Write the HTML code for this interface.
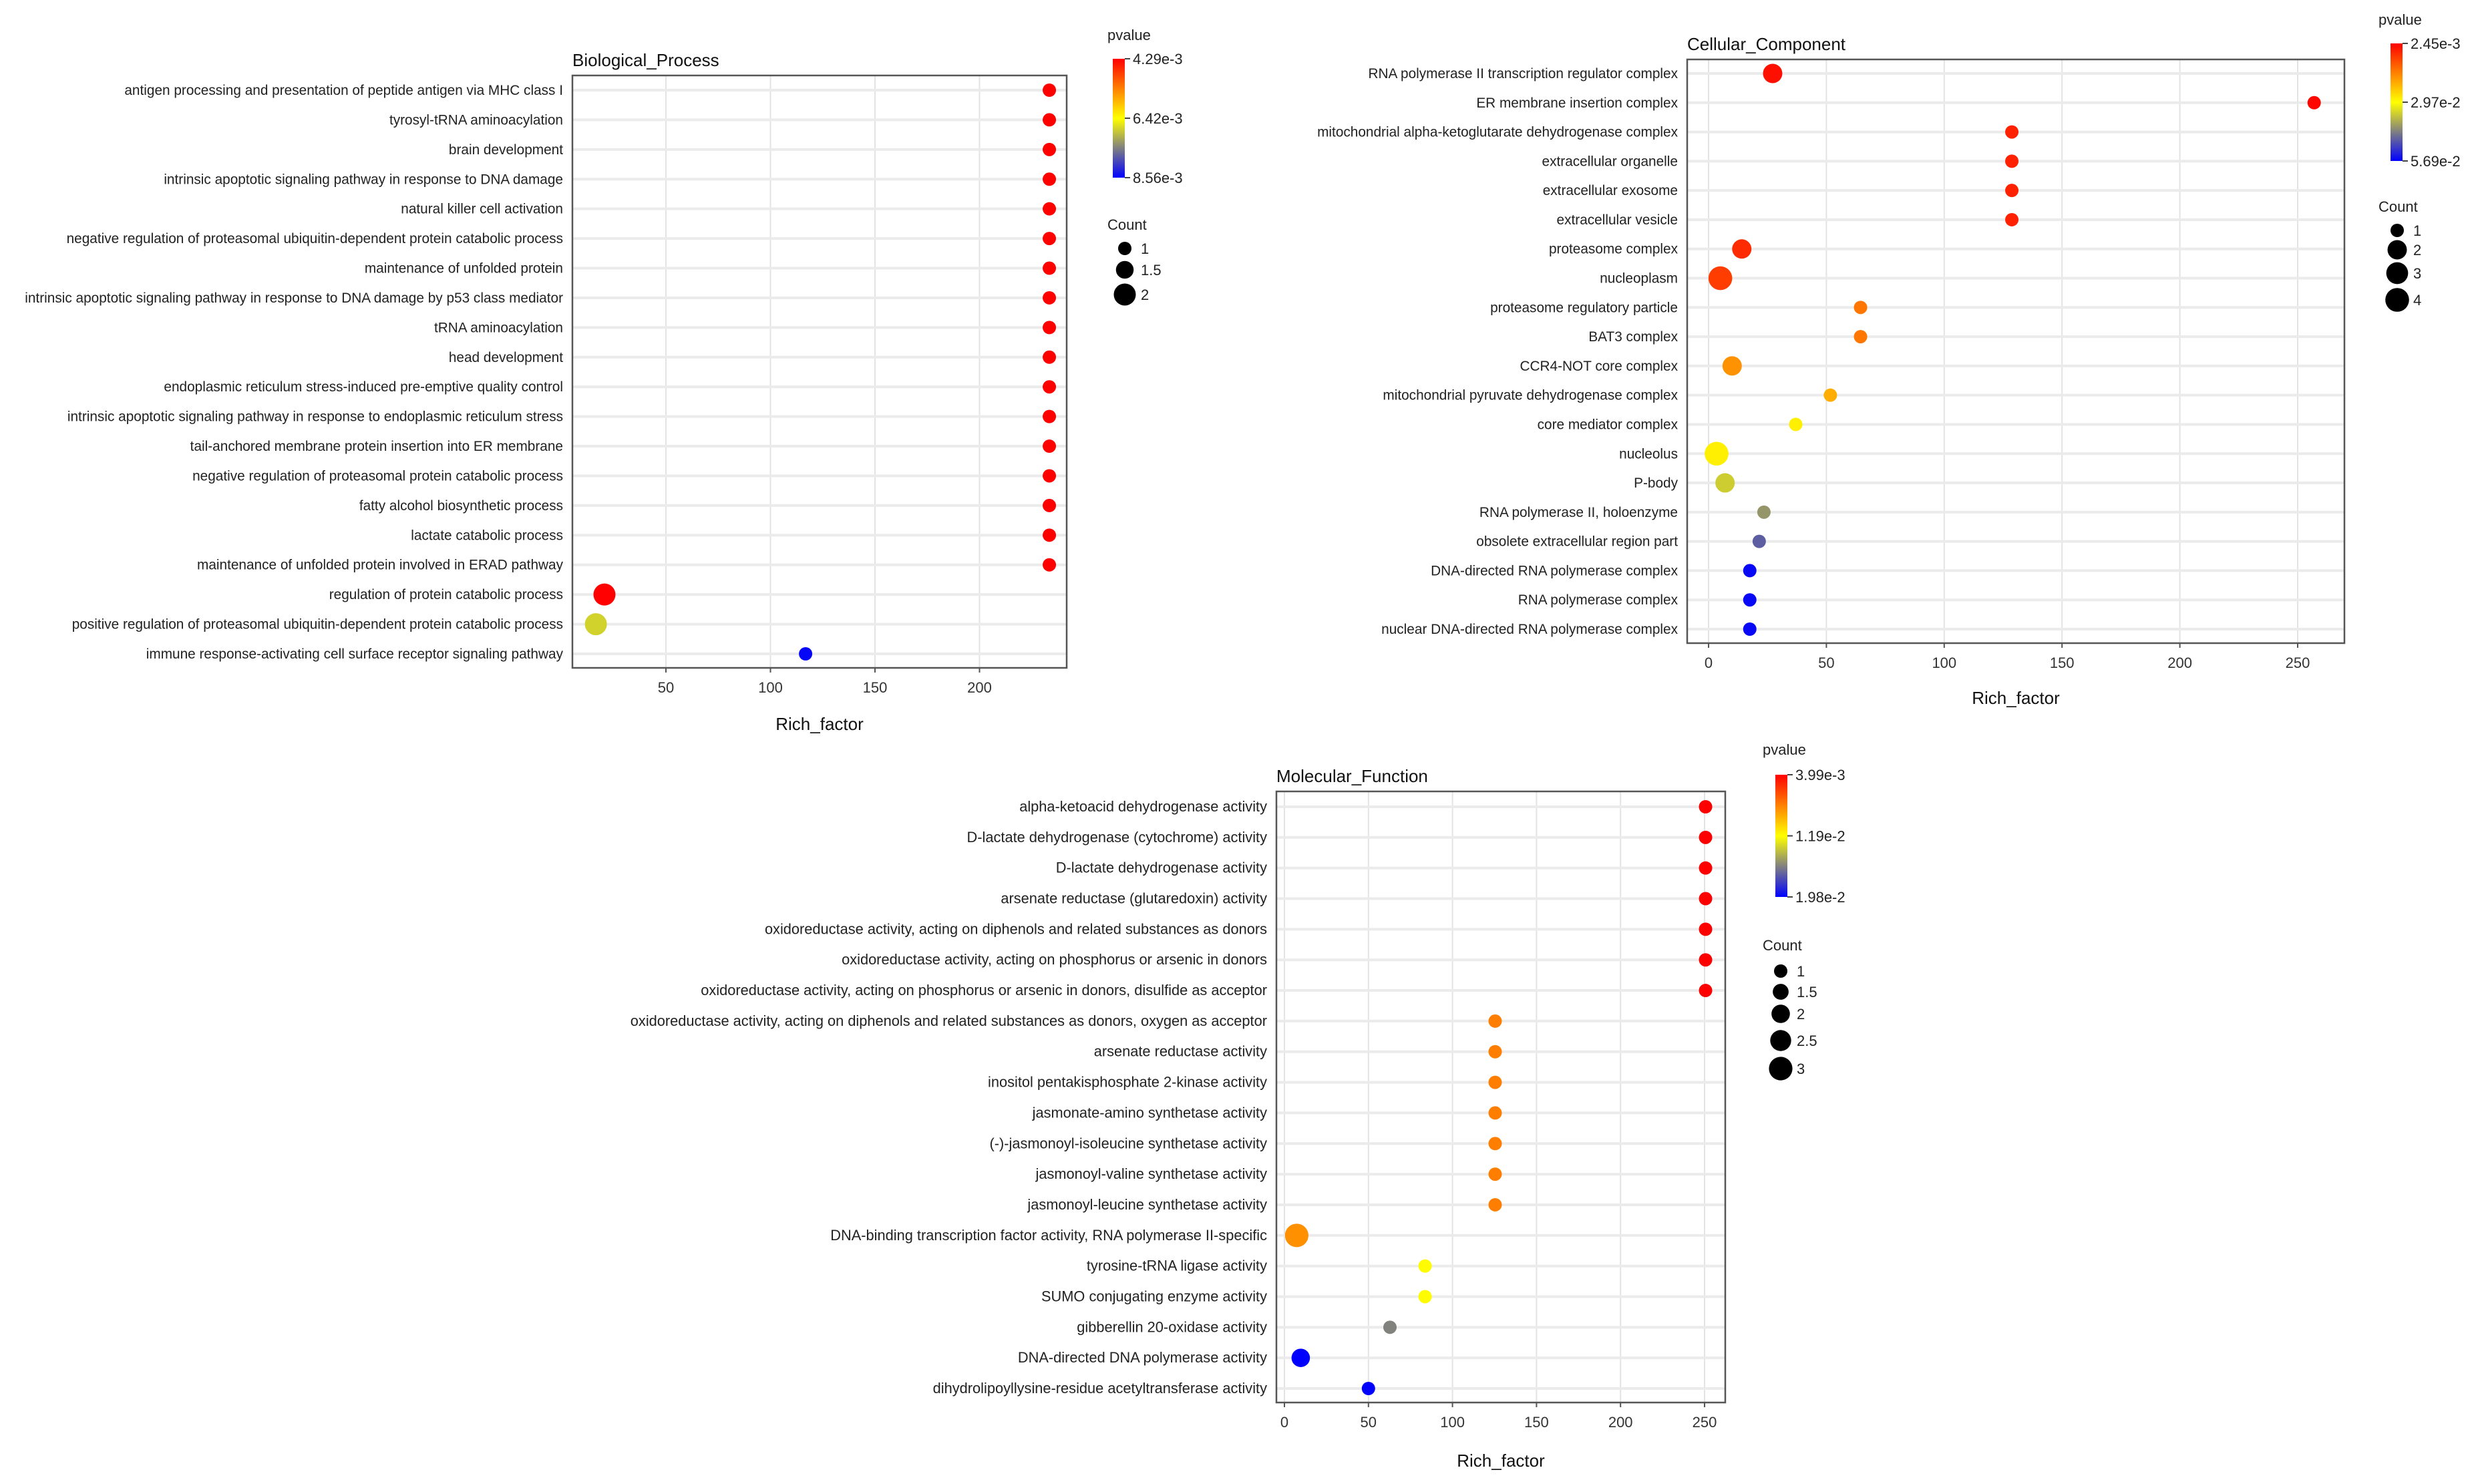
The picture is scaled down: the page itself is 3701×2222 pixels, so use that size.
<!DOCTYPE html>
<html><head><meta charset="utf-8"><style>
html,body{margin:0;padding:0;background:#fff}
svg{display:block;font-family:"Liberation Sans",Arial,sans-serif}
</style></head><body>
<svg id="fig" width="3701" height="2222" viewBox="0 0 3701 2222" xmlns="http://www.w3.org/2000/svg"></svg>
<script>
// ---- Biological Process data ----
const bpTerms = ["antigen processing and presentation of peptide antigen via MHC class I","tyrosyl-tRNA aminoacylation","brain development","intrinsic apoptotic signaling pathway in response to DNA damage","natural killer cell activation","negative regulation of proteasomal ubiquitin-dependent protein catabolic process","maintenance of unfolded protein","intrinsic apoptotic signaling pathway in response to DNA damage by p53 class mediator","tRNA aminoacylation","head development","endoplasmic reticulum stress-induced pre-emptive quality control","intrinsic apoptotic signaling pathway in response to endoplasmic reticulum stress","tail-anchored membrane protein insertion into ER membrane","negative regulation of proteasomal protein catabolic process","fatty alcohol biosynthetic process","lactate catabolic process","maintenance of unfolded protein involved in ERAD pathway","regulation of protein catabolic process","positive regulation of proteasomal ubiquitin-dependent protein catabolic process","immune response-activating cell surface receptor signaling pathway"];
const bpRich = [233.4,233.4,233.4,233.4,233.4,233.4,233.4,233.4,233.4,233.4,233.4,233.4,233.4,233.4,233.4,233.4,233.4,20.6,16.5,116.8];
const bpCount = [1,1,1,1,1,1,1,1,1,1,1,1,1,1,1,1,1,2,2,1];
const bpP = [0.00429,0.00429,0.00429,0.00429,0.00429,0.00429,0.00429,0.00429,0.00429,0.00429,0.00429,0.00429,0.00429,0.00429,0.00429,0.00429,0.00429,0.00430,0.00680,0.00850];
const bpTicks = [50,100,150,200];
const bpPLabels = ["4.29e-3","6.42e-3","8.56e-3"];
const bpCountLegend = [1,1.5,2];

// ---- Cellular Component data ----
const ccTerms = ["RNA polymerase II transcription regulator complex","ER membrane insertion complex","mitochondrial alpha-ketoglutarate dehydrogenase complex","extracellular organelle","extracellular exosome","extracellular vesicle","proteasome complex","nucleoplasm","proteasome regulatory particle","BAT3 complex","CCR4-NOT core complex","mitochondrial pyruvate dehydrogenase complex","core mediator complex","nucleolus","P-body","RNA polymerase II, holoenzyme","obsolete extracellular region part","DNA-directed RNA polymerase complex","RNA polymerase complex","nuclear DNA-directed RNA polymerase complex"];
const ccRich = [27.2,257,128.7,128.7,128.7,128.7,14.1,5,64.5,64.5,10,51.7,37,3.4,7,23.5,21.5,17.5,17.5,17.5];
const ccCount = [2,1,1,1,1,1,2,4,1,1,2,1,1,4,2,1,1,1,1,1];
const ccP = [0.004,0.003,0.006,0.006,0.006,0.006,0.007,0.009,0.015,0.015,0.018,0.021,0.028,0.028,0.035,0.041,0.047,0.056,0.056,0.056];
const ccTicks = [0,50,100,150,200,250];
const ccPLabels = ["2.45e-3","2.97e-2","5.69e-2"];
const ccCountLegend = [1,2,3,4];

// ---- Molecular Function data ----
const mfTerms = ["alpha-ketoacid dehydrogenase activity","D-lactate dehydrogenase (cytochrome) activity","D-lactate dehydrogenase activity","arsenate reductase (glutaredoxin) activity","oxidoreductase activity, acting on diphenols and related substances as donors","oxidoreductase activity, acting on phosphorus or arsenic in donors","oxidoreductase activity, acting on phosphorus or arsenic in donors, disulfide as acceptor","oxidoreductase activity, acting on diphenols and related substances as donors, oxygen as acceptor","arsenate reductase activity","inositol pentakisphosphate 2-kinase activity","jasmonate-amino synthetase activity","(-)-jasmonoyl-isoleucine synthetase activity","jasmonoyl-valine synthetase activity","jasmonoyl-leucine synthetase activity","DNA-binding transcription factor activity, RNA polymerase II-specific","tyrosine-tRNA ligase activity","SUMO conjugating enzyme activity","gibberellin 20-oxidase activity","DNA-directed DNA polymerase activity","dihydrolipoyllysine-residue acetyltransferase activity"];
const mfRich = [250.6,250.6,250.6,250.6,250.6,250.6,250.6,125.4,125.4,125.4,125.4,125.4,125.4,125.4,7.3,83.7,83.7,62.8,9.7,50];
const mfCount = [1,1,1,1,1,1,1,1,1,1,1,1,1,1,3,1,1,1,2,1];
const mfP = [0.00399,0.00399,0.00399,0.00399,0.00399,0.00399,0.00399,0.0079,0.0079,0.0079,0.0079,0.0079,0.0079,0.0079,0.0085,0.0118,0.0118,0.0158,0.0198,0.0198];
const mfTicks = [0,50,100,150,200,250];
const mfPLabels = ["3.99e-3","1.19e-2","1.98e-2"];
const mfCountLegend = [1,1.5,2,2.5,3];

const NS="http://www.w3.org/2000/svg";
const svg=document.getElementById('fig');
function mk(tag,attrs,parent){const e=document.createElementNS(NS,tag);for(const k in attrs)e.setAttribute(k,attrs[k]);(parent||svg).appendChild(e);return e;}
function lerp(a,b,t){return Math.round(a+(b-a)*t);}
function colorFor(p,pmin,pmax){
  let t=(p-pmin)/(pmax-pmin);t=Math.max(0,Math.min(1,t));
  if(t<0.5){const u=t/0.5;return `rgb(255,${lerp(0,255,u)},0)`;}
  const u=(t-0.5)/0.5;return `rgb(${lerp(255,0,u)},${lerp(255,0,u)},${lerp(0,255,u)})`;
}

function panel(cfg){
  const g=mk('g',{});
  
  
  const sx=v=>cfg.x0+v*cfg.k;
  const n=cfg.terms.length;
  const sy=i=>cfg.rowTop+i*(cfg.rowBot-cfg.rowTop)/(n-1);
  const bg=mk('rect',{x:cfg.L,y:cfg.T,width:cfg.R-cfg.L,height:cfg.B-cfg.T,fill:'#fff'},g);
  
  
  cfg.ticks.forEach(t=>{
    const gl=mk('line',{x1:sx(t),x2:sx(t),y1:cfg.T,y2:cfg.B,stroke:'#e3e3e3','stroke-width':2},g);
    
    
  });
  cfg.terms.forEach((t,i)=>{
    const hl=mk('line',{x1:cfg.L,x2:cfg.R,y1:sy(i),y2:sy(i),stroke:'#ebebeb','stroke-width':4},g);
    
    
  });
  cfg.terms.forEach((t,i)=>{
    const c=mk('circle',{cx:sx(cfg.rich[i]),cy:sy(i),r:cfg.rad(cfg.count[i]),fill:colorFor(cfg.p[i],cfg.pmin,cfg.pmax)},g);
    
    
  });
  const bd=mk('rect',{x:cfg.L,y:cfg.T,width:cfg.R-cfg.L,height:cfg.B-cfg.T,fill:'none',stroke:'#555','stroke-width':2.5},g);
  
  
  cfg.terms.forEach((t,i)=>{
    const tx=mk('text',{x:cfg.L-14,y:sy(i)+7,'text-anchor':'end','font-size':cfg.fs,fill:'#222'},g);
    tx.textContent=t;
    
    
  });
  cfg.ticks.forEach(t=>{
    const tk=mk('line',{x1:sx(t),x2:sx(t),y1:cfg.B,y2:cfg.B+7,stroke:'#555','stroke-width':2},g);
    
    
    const tl=mk('text',{x:sx(t),y:cfg.B+37,'text-anchor':'middle','font-size':22,fill:'#333'},g);
    tl.textContent=String(t);
    
    
  });
  const ti=mk('text',{x:cfg.L,y:cfg.T-14,'font-size':26,fill:'#111'},g);
  ti.textContent=cfg.title;
  
  
  const xt=mk('text',{x:(cfg.L+cfg.R)/2,y:cfg.xTitleY,'text-anchor':'middle','font-size':26,fill:'#111'},g);
  xt.textContent='Rich_factor';
  
  
  const lg=cfg.leg;
  const pt=mk('text',{x:lg.x,y:lg.pTitleY,'font-size':22,fill:'#222'},g);
  pt.textContent='pvalue';
  
  
  const gid='grad-'+cfg.name;
  const defs=mk('defs',{},g);
  const lgd=mk('linearGradient',{id:gid,x1:0,y1:0,x2:0,y2:1},defs);
  [[0,'#ff0000'],[0.25,'#ff8000'],[0.5,'#ffff00'],[0.75,'#808080'],[1,'#0000ff']].forEach(s=>mk('stop',{offset:s[0],'stop-color':s[1]},lgd));
  const cb=mk('rect',{x:lg.barX,y:lg.barTop,width:18,height:lg.barBot-lg.barTop,fill:`url(#${gid})`},g);
  
  
  cfg.pLabels.forEach((s,i)=>{
    const yy=lg.barTop+i*(lg.barBot-lg.barTop)/2;
    mk('line',{x1:lg.barX+18,x2:lg.barX+26,y1:yy,y2:yy,stroke:'#444','stroke-width':2},g);
    const t=mk('text',{x:lg.barX+30,y:yy+8,'font-size':22,fill:'#222'},g);
    t.textContent=s;
    
    
  });
  const ct=mk('text',{x:lg.x,y:lg.cTitleY,'font-size':22,fill:'#222'},g);
  ct.textContent='Count';
  
  
  cfg.countLegend.forEach((v,i)=>{
    const yy=lg.cYs[i];
    const c=mk('circle',{cx:lg.dotX,cy:yy,r:cfg.rad(v),fill:'#000'},g);
    
    
    const t=mk('text',{x:lg.dotX+24,y:yy+8,'font-size':22,fill:'#222'},g);
    t.textContent=String(v);
    
    
  });
}

panel({name:'biological-process',title:'Biological_Process',terms:bpTerms,rich:bpRich,count:bpCount,p:bpP,ticks:bpTicks,pLabels:bpPLabels,countLegend:bpCountLegend,fs:20.8,
  pmin:0.00429,pmax:0.00856,L:857,R:1597,T:113,B:1000,rowTop:135,rowBot:979,x0:840.5,k:3.13,xTitleY:1093,
  rad:c=>10+(c-1)*6.5,
  leg:{x:1658,pTitleY:60,barX:1666,barTop:88,barBot:266,cTitleY:344,dotX:1684,cYs:[372,404,441]}});
panel({name:'cellular-component',title:'Cellular_Component',terms:ccTerms,rich:ccRich,count:ccCount,p:ccP,ticks:ccTicks,pLabels:ccPLabels,countLegend:ccCountLegend,fs:20.8,
  pmin:0.00245,pmax:0.0569,L:2526,R:3510,T:89,B:963,rowTop:110,rowBot:942,x0:2558,k:3.528,xTitleY:1054,
  rad:c=>10+Math.sqrt(c-1)*4.5,
  leg:{x:3561,pTitleY:37,barX:3579,barTop:65,barBot:241,cTitleY:317,dotX:3589,cYs:[345,374,409,449]}});
panel({name:'molecular-function',title:'Molecular_Function',terms:mfTerms,rich:mfRich,count:mfCount,p:mfP,ticks:mfTicks,pLabels:mfPLabels,countLegend:mfCountLegend,fs:21.8,
  pmin:0.00399,pmax:0.0198,L:1911,R:2583,T:1185,B:2100,rowTop:1208,rowBot:2079,x0:1923,k:2.516,xTitleY:2196,
  rad:c=>10+(c-1)*3.8,
  leg:{x:2639,pTitleY:1130,barX:2658,barTop:1160,barBot:1343,cTitleY:1423,dotX:2666,cYs:[1454,1485,1518,1558,1600]}});
</script>
</body></html>
